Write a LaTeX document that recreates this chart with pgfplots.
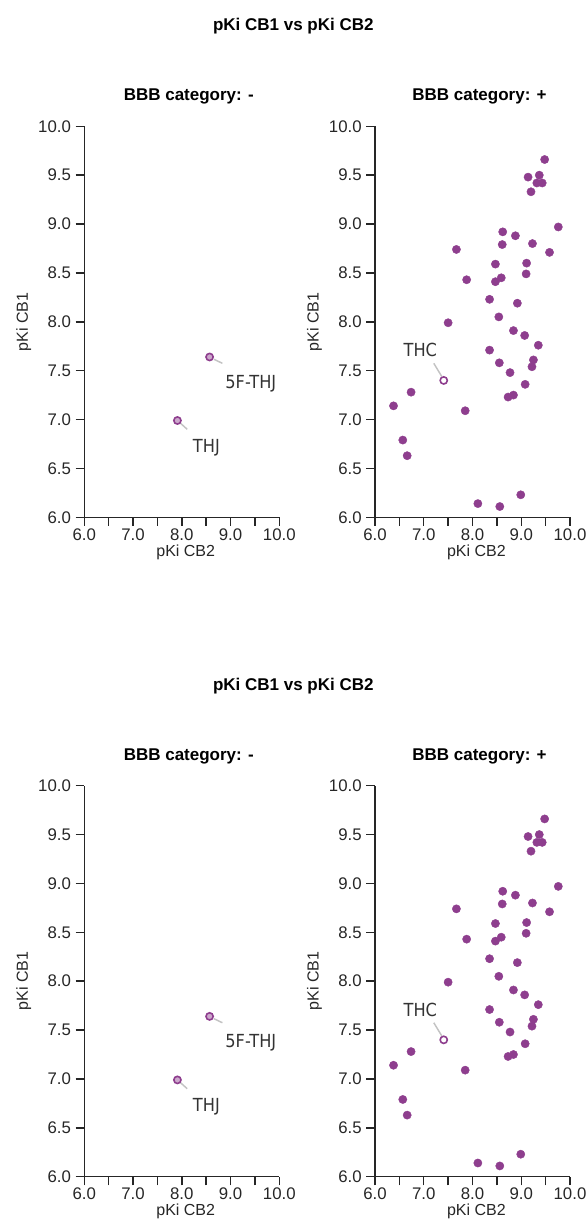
\documentclass[border=0pt]{standalone}
\usepackage{fontspec}
\setmainfont{Liberation Sans}
\newfontfamily\annfont[FakeStretch=0.9]{DejaVu Sans}
\usepackage{pgfplots}
\pgfplotsset{compat=1.18}
\usepackage{pgfplotstable}

\definecolor{dotpurple}{RGB}{142,62,142}
\definecolor{leader}{RGB}{195,195,195}

% BBB category: - (labelled compounds)
\pgfplotstableread{
cb2 cb1
8.57 7.64
7.91 6.99
}\minusdata

% BBB category: + (THC kept apart, it is labelled)
\pgfplotstableread{
cb2 cb1
9.48 9.66
9.14 9.48
9.37 9.50
9.20 9.33
9.32 9.42
9.43 9.42
9.76 8.97
8.62 8.92
8.88 8.88
9.23 8.80
8.61 8.79
7.67 8.74
9.58 8.71
8.47 8.59
9.11 8.60
9.10 8.49
7.88 8.43
8.59 8.45
8.47 8.41
8.35 8.23
8.92 8.19
8.54 8.05
7.50 7.99
8.84 7.91
9.07 7.86
8.35 7.71
9.35 7.76
8.55 7.58
9.25 7.61
9.22 7.54
8.77 7.48
9.08 7.36
8.84 7.25
8.73 7.23
6.74 7.28
6.38 7.14
7.85 7.09
6.57 6.79
6.66 6.63
8.11 6.14
8.56 6.11
8.99 6.23
}\plusdata

\pgfplotstableread{
cb2 cb1
7.41 7.40
}\thcdata

\tikzset{
  ann/.style={font=\annfont\fontsize{13.5}{15}\selectfont, text=black!80, inner sep=0pt},
}

\pgfplotsset{
  bbb/.style={
    scale only axis, width=146.25pt, height=293.25pt,
    xmin=6, xmax=10, ymin=6, ymax=10,
    axis lines*=left,
    axis line style={black!85, line width=1.1pt},
    xtick align=outside, ytick align=outside,
    major tick length=6.5pt,
    tick style={black!85, line width=1.1pt},
    xtick={6,6.5,7,7.5,8,8.5,9,9.5,10},
    xticklabels={6.0,,7.0,,8.0,,9.0,,10.0},
    ytick={6,6.5,7,7.5,8,8.5,9,9.5,10},
    yticklabels={6.0,6.5,7.0,7.5,8.0,8.5,9.0,9.5,10.0},
    ticklabel style={font=\fontsize{12.6}{14}\selectfont, text=black!85},
    xticklabel style={yshift=1.5pt},
    xlabel={pKi CB2}, ylabel={pKi CB1},
    label style={font=\fontsize{12}{14}\selectfont, text=black!85},
    xlabel style={at={(axis description cs:0.52,0)}, anchor=center, yshift=-26pt},
    ylabel style={at={(axis description cs:-0.31,0.5)}, anchor=center},
    title style={font=\fontsize{12.75}{15}\selectfont\bfseries, anchor=base,
      at={(axis description cs:0.536,1)}, yshift=13.2pt},
    clip=false,
  },
  dots/.style={only marks, mark=*, mark size=3.1pt,
    mark options={fill=dotpurple, draw=dotpurple, line width=0.3pt}},
  picked/.style={only marks, mark=*, mark size=2.7pt,
    mark options={fill=#1, draw=dotpurple, line width=1.2pt}},
}

% one figure: title plus the two panels, #1 = bottom of the axes, #2 = title baseline
\newcommand{\figurepair}[2]{
  \node[font=\fontsize{12.75}{15}\selectfont\bfseries, anchor=base] at (219.98pt,#2) {pKi CB1 vs pKi CB2};
  \begin{axis}[bbb, at={(63.23pt,#1)}, anchor=south west, title={BBB category: -}]
    \draw[leader, line width=1.1pt] (axis cs:8.66,7.616) -- (axis cs:8.833,7.575);
    \draw[leader, line width=1.1pt] (axis cs:7.973,6.962) -- (axis cs:8.111,6.900);
    \addplot[picked=dotpurple!45!white] table[x=cb2, y=cb1] {\minusdata};
    \node[ann] at (axis cs:9.416,7.371) {5F-THJ};
    \node[ann] at (axis cs:8.505,6.714) {THJ};
  \end{axis}
  \begin{axis}[bbb, at={(281.25pt,#1)}, anchor=south west, title={BBB category: +}]
    \addplot[dots] table[x=cb2, y=cb1] {\plusdata};
    \draw[leader, line width=1.1pt] (axis cs:7.206,7.575) -- (axis cs:7.37,7.44);
    \addplot[picked=white] table[x=cb2, y=cb1] {\thcdata};
    \node[ann] at (axis cs:6.93,7.708) {THC};
  \end{axis}
}

\begin{document}
\begin{tikzpicture}
  \useasboundingbox (0,0) rectangle (440.25pt,921pt);
  \figurepair{533.03pt}{897.75pt}
  \figurepair{38.48pt}{403.2pt}
\end{tikzpicture}
\end{document}
